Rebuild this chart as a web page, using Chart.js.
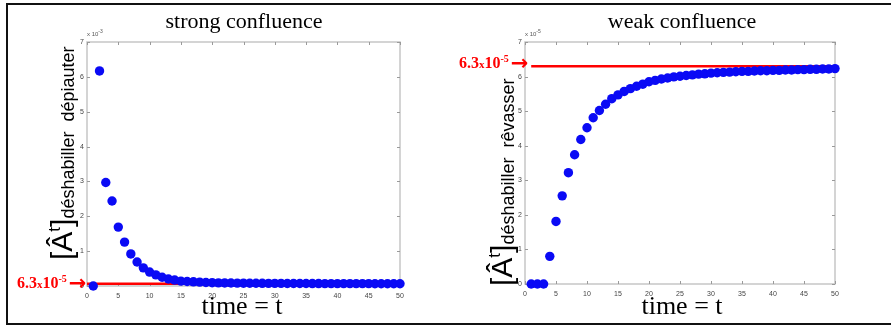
<!DOCTYPE html>
<html>
<head>
<meta charset="utf-8">
<script src="https://cdn.jsdelivr.net/npm/chart.js@4.4.0/dist/chart.umd.min.js"></script>
<style>
    html, body { margin: 0; padding: 0; background: #fff; }
    #stage { position: relative; width: 891px; height: 327px; overflow: hidden; background: #fff; }
    .frame { position: absolute; left: 6px; top: 3px; width: 920px; height: 318px; border: 2px solid #111; }
    canvas { position: absolute; top: 0; }
    .serif { position: absolute; font-family: "Liberation Serif", "Times New Roman", serif; color: #000;
             white-space: nowrap; line-height: 1; transform: translateX(-50%); }
    .title { font-size: 22px; top: 10px; }
    .xlab { font-size: 26px; top: 293px; }
    .ylab { position: absolute; transform: rotate(-90deg); transform-origin: left top; white-space: nowrap;
            font-family: "Liberation Sans", Arial, sans-serif; font-size: 30px; line-height: 30px; color: #000; }
    .ylab sup { font-size: 17px; line-height: 0; vertical-align: 12px; }
    .ylab sub { font-size: 18px; line-height: 0; vertical-align: -2px; }
    .note { position: absolute; color: #f00; font-family: "Liberation Serif", "Times New Roman", serif;
            font-weight: bold; font-size: 16px; line-height: 16px; white-space: nowrap; }
    .note .x { font-size: 11px; }
    .note sup { font-size: 10px; line-height: 0; vertical-align: 6px; }
    .note .arr { font-family: "DejaVu Sans", sans-serif; font-weight: bold; font-size: 21px; line-height: 0;
                 vertical-align: -2px; margin-left: 2px; }
    .mult { position: absolute; top: 31px; font: 6px "Liberation Sans", Arial, sans-serif; color: #555; white-space: nowrap; }
    .mult sup { font-size: 5px; line-height: 0; vertical-align: 3px; }
</style>
</head>
<body>
<div id="stage">
    <div class="frame"></div>
    <canvas id="strong" width="445" height="327" style="left:0"></canvas>
    <canvas id="weak" width="451" height="327" style="left:440px"></canvas>

    <div class="serif title" style="left:244px">strong confluence</div>
    <div class="serif title" style="left:682px">weak confluence</div>
    <div class="serif xlab" style="left:242px">time&nbsp;=&nbsp;t</div>
    <div class="serif xlab" style="left:682px">time&nbsp;=&nbsp;t</div>

    <div class="ylab" style="left:47px; top:260px">[Â<sup>t</sup>]<sub>déshabiller&nbsp; dépiauter</sub></div>
    <div class="ylab" style="left:487px; top:286px">[Â<sup>t</sup>]<sub>déshabiller&nbsp; rêvasser</sub></div>

    <div class="mult" style="left:87px">x 10<sup>-3</sup></div>
    <div class="mult" style="left:525px">x 10<sup>-5</sup></div>

    <div class="note" style="left:17px; top:275px">6.3<span class="x">x</span>10<sup>-5</sup><span class="arr">&#x2192;</span></div>
    <div class="note" style="left:459px; top:55px">6.3<span class="x">x</span>10<sup>-5</sup><span class="arr">&#x2192;</span></div>
</div>

<script>
// time steps shared by both panels
const timeSteps = [1, 2, 3, 4, 5, 6, 7, 8, 9, 10, 11, 12, 13, 14, 15, 16, 17, 18, 19, 20,
    21, 22, 23, 24, 25, 26, 27, 28, 29, 30, 31, 32, 33, 34, 35, 36, 37, 38, 39, 40,
    41, 42, 43, 44, 45, 46, 47, 48, 49, 50];

// strong confluence, in units of 1e-3
const strongValues = [0.00, 6.17, 2.97, 2.44, 1.69, 1.26, 0.92, 0.69, 0.52, 0.40,
    0.32, 0.25, 0.20, 0.17, 0.14, 0.13, 0.12, 0.11, 0.10, 0.095,
    0.090, 0.088, 0.085, 0.083, 0.081, 0.079, 0.078, 0.077, 0.076, 0.075,
    0.074, 0.073, 0.072, 0.071, 0.071, 0.070, 0.070, 0.069, 0.069, 0.068,
    0.068, 0.068, 0.067, 0.067, 0.067, 0.066, 0.066, 0.066, 0.066, 0.065];

// weak confluence, in units of 1e-5
const weakValues = [0.00, 0.00, 0.00, 0.80, 1.81, 2.55, 3.22, 3.74, 4.18, 4.52,
    4.81, 5.02, 5.20, 5.36, 5.47, 5.57, 5.65, 5.72, 5.78, 5.85,
    5.89, 5.93, 5.96, 5.99, 6.01, 6.03, 6.05, 6.07, 6.08, 6.10,
    6.11, 6.12, 6.13, 6.14, 6.15, 6.15, 6.16, 6.17, 6.17, 6.18,
    6.18, 6.19, 6.19, 6.20, 6.20, 6.21, 6.21, 6.22, 6.22, 6.23];

// 6.3e-5 limit expressed in each panel's axis units
const strongLimit = 0.063;
const weakLimit = 6.3;
const strongLimitSpan = [0, 50];
const weakLimitSpan = [1, 50];

const xTicks = [0, 5, 10, 15, 20, 25, 30, 35, 40, 45, 50];
const yTicks = [0, 1, 2, 3, 4, 5, 6, 7];

/* MATLAB-style box with inward tick marks on all four sides */
const boxPlugin = {
    id: 'matlabBox',
    beforeDatasetsDraw(chart) {
        const { ctx, chartArea: a, scales: { x, y } } = chart;
        ctx.save();
        ctx.strokeStyle = '#c6c6c6';
        ctx.lineWidth = 1.5;
        ctx.strokeRect(a.left, a.top, a.right - a.left, a.bottom - a.top);
        ctx.strokeStyle = '#9a9a9a';
        ctx.lineWidth = 1;
        ctx.beginPath();
        x.ticks.forEach(t => {
            const px = Math.round(x.getPixelForValue(t.value)) + 0.5;
            ctx.moveTo(px, a.bottom); ctx.lineTo(px, a.bottom - 3);
            ctx.moveTo(px, a.top); ctx.lineTo(px, a.top + 3);
        });
        y.ticks.forEach(t => {
            const py = Math.round(y.getPixelForValue(t.value)) + 0.5;
            ctx.moveTo(a.left, py); ctx.lineTo(a.left + 3, py);
            ctx.moveTo(a.right, py); ctx.lineTo(a.right - 3, py);
        });
        ctx.stroke();
        ctx.restore();
    }
};

function buildPanel(id, values, limit, span, yWidth, xHeight, rightPad) {
    const points = timeSteps.map((t, i) => ({ x: t, y: values[i] }));
    const limitLine = span.map(t => ({ x: t, y: limit }));
    const tickFont = { family: "'Liberation Sans', Arial, sans-serif", size: 7 };

    return new Chart(document.getElementById(id), {
        type: 'scatter',
        data: {
            datasets: [
                {
                    data: points,
                    backgroundColor: '#0a0af5',
                    borderWidth: 0,
                    pointRadius: 4.7,
                    clip: false,
                    order: 1,
                },
                {
                    type: 'line',
                    data: limitLine,
                    borderColor: '#ff0000',
                    borderWidth: 2.5,
                    pointRadius: 0,
                    showLine: true,
                    clip: false,
                    order: 2,
                },
            ],
        },
        options: {
            responsive: false,
            animation: false,
            devicePixelRatio: 1,
            layout: { padding: { top: 42, right: rightPad, left: 0, bottom: 0 } },
            plugins: { legend: { display: false }, tooltip: { enabled: false } },
            scales: {
                x: {
                    type: 'linear', min: 0, max: 50,
                    grid: { display: false, drawTicks: false }, border: { display: false },
                    afterBuildTicks: s => { s.ticks = xTicks.map(v => ({ value: v })); },
                    afterFit: s => { s.height = xHeight; },
                    ticks: { font: tickFont, color: '#444', padding: 6, maxRotation: 0, autoSkip: false },
                },
                y: {
                    min: 0, max: 7,
                    grid: { display: false, drawTicks: false }, border: { display: false },
                    afterBuildTicks: s => { s.ticks = yTicks.map(v => ({ value: v })); },
                    afterFit: s => { s.width = yWidth; },
                    ticks: { font: tickFont, color: '#444', padding: 3, autoSkip: false },
                },
            },
        },
        plugins: [boxPlugin],
    });
}

buildPanel('strong', strongValues, strongLimit, strongLimitSpan, 87, 41, 45);
buildPanel('weak', weakValues, weakLimit, weakLimitSpan, 85, 43, 56);
</script>
</body>
</html>
